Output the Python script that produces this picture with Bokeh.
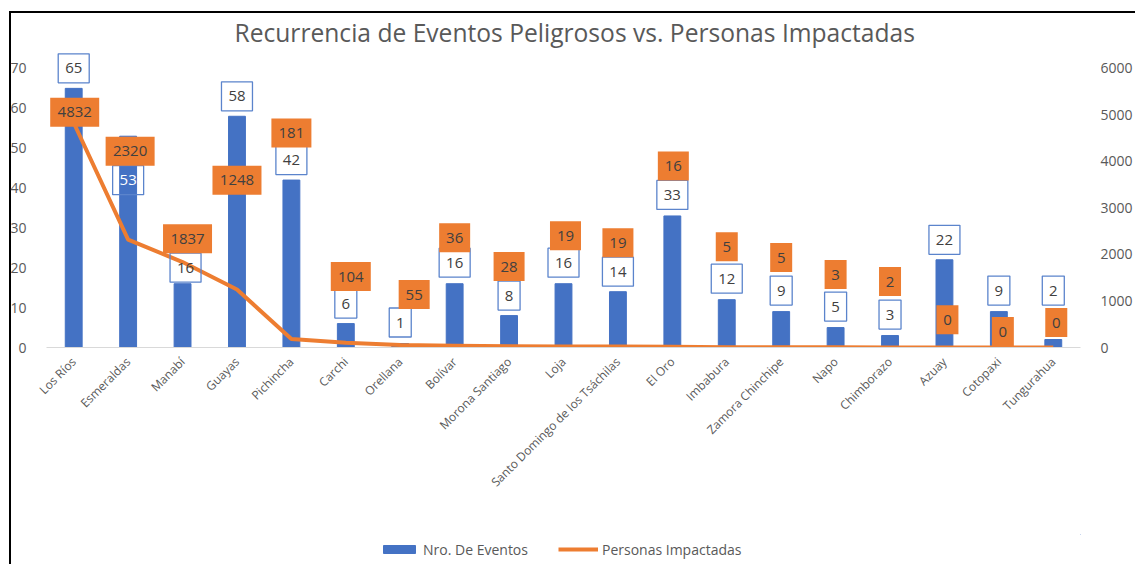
from bokeh.plotting import figure
from bokeh.layouts import column
from bokeh.models import (ColumnDataSource, LinearAxis, Range1d, FixedTicker,
                          Legend, LegendItem, FactorRange)
from bokeh.core.properties import value
from bokeh.embed import file_html
from bokeh.resources import INLINE
import math

# ---------------- data ----------------
provincias = ["Los Ríos", "Esmeraldas", "Manabí", "Guayas", "Pichincha", "Carchi",
              "Orellana", "Bolívar", "Morona Santiago", "Loja",
              "Santo Domingo de los Tsáchilas", "El Oro", "Imbabura",
              "Zamora Chinchipe", "Napo", "Chimborazo", "Azuay", "Cotopaxi",
              "Tungurahua"]
eventos = [65, 53, 16, 58, 42, 6, 1, 16, 8, 16, 14, 33, 12, 9, 5, 3, 22, 9, 2]
personas = [4832, 2320, 1837, 1248, 181, 104, 55, 36, 28, 19, 19, 16, 5, 5, 3, 2, 0, 0, 0]
ticks_izq = [0, 10, 20, 30, 40, 50, 60, 70]
ticks_der = [0, 1000, 2000, 3000, 4000, 5000, 6000]
series = ["Nro. De Eventos", "Personas Impactadas"]

# -------- label layout (pixel offsets from the bar top) --------
ev_dx = [0, 0, 3, 0, 0, 0, 0, 0, 0, 0, 0, 0, 0, 0, 0, 0, 0, 0, 0]
ev_dy = [20, -44, 16, 20, 20, 20, 21, 21, 20, 21, 20, 21, 21, 21, 21, 21, 20, 21, 49]
pe_dx = [1, 2, 5, 0, 0, 5, 14, 0, 0, 2, 0, 1, 0, 0, 0, 0, 3, 4, 3]
pe_dy = [-24, -15, 45, -64, 47, 47, 49, 46, 49, 48, 49, 50, 53, 54, 53, 54, -60, -20, 17]

AZUL = "#4472C4"
NARANJA = "#ED7D31"
GRIS = "#595959"
TXT = "#404040"
FONT = "Open Sans"

W, H, H_LEG = 1135, 534, 30
B_LEFT, B_RIGHT, B_TOP, B_BOTTOM = 46, 50, 50, 187
ymax_izq = 74.5
ymax_der = ymax_izq * ticks_der[-1] / ticks_izq[-1]
ppu = (H - B_TOP - B_BOTTOM) / ymax_izq            # px per left-axis unit
ppx = (W - B_LEFT - B_RIGHT) / len(provincias)     # px per category

src = ColumnDataSource(dict(prov=provincias, ev=eventos, pe=personas))

p = figure(x_range=FactorRange(factors=provincias, range_padding=0),
           y_range=Range1d(0, ymax_izq),
           width=W, height=H, output_backend="svg", toolbar_location=None,
           min_border_left=B_LEFT, min_border_right=B_RIGHT, min_border_top=B_TOP,
           min_border_bottom=B_BOTTOM,
           title="Recurrencia de Eventos Peligrosos vs. Personas Impactadas")
p.extra_y_ranges = {"der": Range1d(0, ymax_der)}

p.border_fill_color = None
p.background_fill_color = None
p.outline_line_color = None
p.styles = {"box-shadow": ("inset 9px 0 0 0 #ffffff, inset 0 11px 0 0 #ffffff, "
                           "inset 11px 0 0 0 #000000, inset 0 13px 0 0 #000000")}

p.title.align = "left"
p.title.offset = 188
p.title.text_font = FONT
p.title.text_font_size = "24.6px"
p.title.text_font_style = "normal"
p.title.text_color = GRIS
p.title.standoff = 4

bars = p.vbar(x="prov", top="ev", width=0.31, source=src, color=AZUL)
linea = p.line(x="prov", y="pe", y_range_name="der", source=src,
               line_color=NARANJA, line_width=4, line_join="round")

der = LinearAxis(y_range_name="der", ticker=FixedTicker(ticks=ticks_der))
p.add_layout(der, "right")

p.yaxis[0].ticker = FixedTicker(ticks=ticks_izq)
for ax in p.yaxis:
    ax.axis_line_color = None
    ax.major_tick_line_color = None
    ax.minor_tick_line_color = None
    ax.major_label_text_font = FONT
    ax.major_label_text_font_size = "14px"
    ax.major_label_text_color = GRIS
    ax.major_label_standoff = 14
der.major_label_standoff = 14

xa = p.xaxis[0]
xa.axis_line_color = "#d9d9d9"
xa.axis_line_width = 1
xa.major_tick_line_color = None
xa.minor_tick_line_color = None
xa.major_label_orientation = math.pi / 4
xa.major_label_text_font = FONT
xa.major_label_text_font_size = "12px"
xa.major_label_text_color = GRIS
xa.major_label_standoff = 6

p.xgrid.visible = False
p.ygrid.visible = False

# ---- data labels (boxes + text), positioned from the values ----
def box_w(s):
    return 9 * len(s) + 13

ev_txt = [str(v) for v in eventos]
pe_txt = [str(v) for v in personas]
ev_src = ColumnDataSource(dict(
    x=[i + 0.5 + ev_dx[i] / ppx for i in range(len(provincias))],
    y=[eventos[i] + ev_dy[i] / ppu for i in range(len(provincias))],
    t=ev_txt, w=[box_w(s) for s in ev_txt],
    c=["#ffffff" if d < 0 else TXT for d in ev_dy]))
pe_src = ColumnDataSource(dict(
    x=[i + 0.5 + pe_dx[i] / ppx for i in range(len(provincias))],
    y=[eventos[i] + pe_dy[i] / ppu for i in range(len(provincias))],
    t=pe_txt, w=[box_w(s) for s in pe_txt]))

p.rect(x="x", y="y", width="w", height=29, width_units="screen", height_units="screen",
       source=ev_src, fill_color=None, line_color="#5b84cc", line_width=1.3)
p.text(x="x", y="y", text="t", source=ev_src, text_align="center",
       text_baseline="middle", text_font=value(FONT), text_font_size=value("15px"),
       text_color="c")
p.rect(x="x", y="y", width="w", height=29, width_units="screen", height_units="screen",
       source=pe_src, fill_color=NARANJA, line_color=None)
p.text(x="x", y="y", text="t", source=pe_src, text_align="center",
       text_baseline="middle", text_font=value(FONT), text_font_size=value("15px"),
       text_color=TXT)

# ---- legend strip below the chart (key renderers sit outside its range) ----
pl = figure(width=W, height=H_LEG, output_backend="svg", toolbar_location=None,
            x_range=Range1d(0, 1), y_range=Range1d(0, 1),
            x_axis_type=None, y_axis_type=None, min_border=0)
pl.outline_line_color = None
pl.border_fill_color = None
pl.background_fill_color = None
pl.grid.visible = False
pl.styles = {"box-shadow": "inset 9px 0 0 0 #ffffff, inset 11px 0 0 0 #000000"}
key_bar = pl.vbar(x=[5], top=[5], bottom=[4], width=0.1, color=AZUL)
key_line = pl.line(x=[5, 6], y=[5, 5], line_color=NARANJA, line_width=4)

legend = Legend(items=[LegendItem(label=series[0], renderers=[key_bar]),
                       LegendItem(label=series[1], renderers=[key_line])],
                location=(333, 5), orientation="horizontal",
                glyph_width=40, glyph_height=10, label_height=20, label_standoff=4,
                spacing=30, padding=0, margin=0, border_line_color=None,
                background_fill_alpha=0, label_text_font=FONT,
                label_text_font_size="14px", label_text_color=GRIS)
pl.add_layout(legend)

open("out.html", "w").write(file_html(column(p, pl, spacing=0), INLINE))
